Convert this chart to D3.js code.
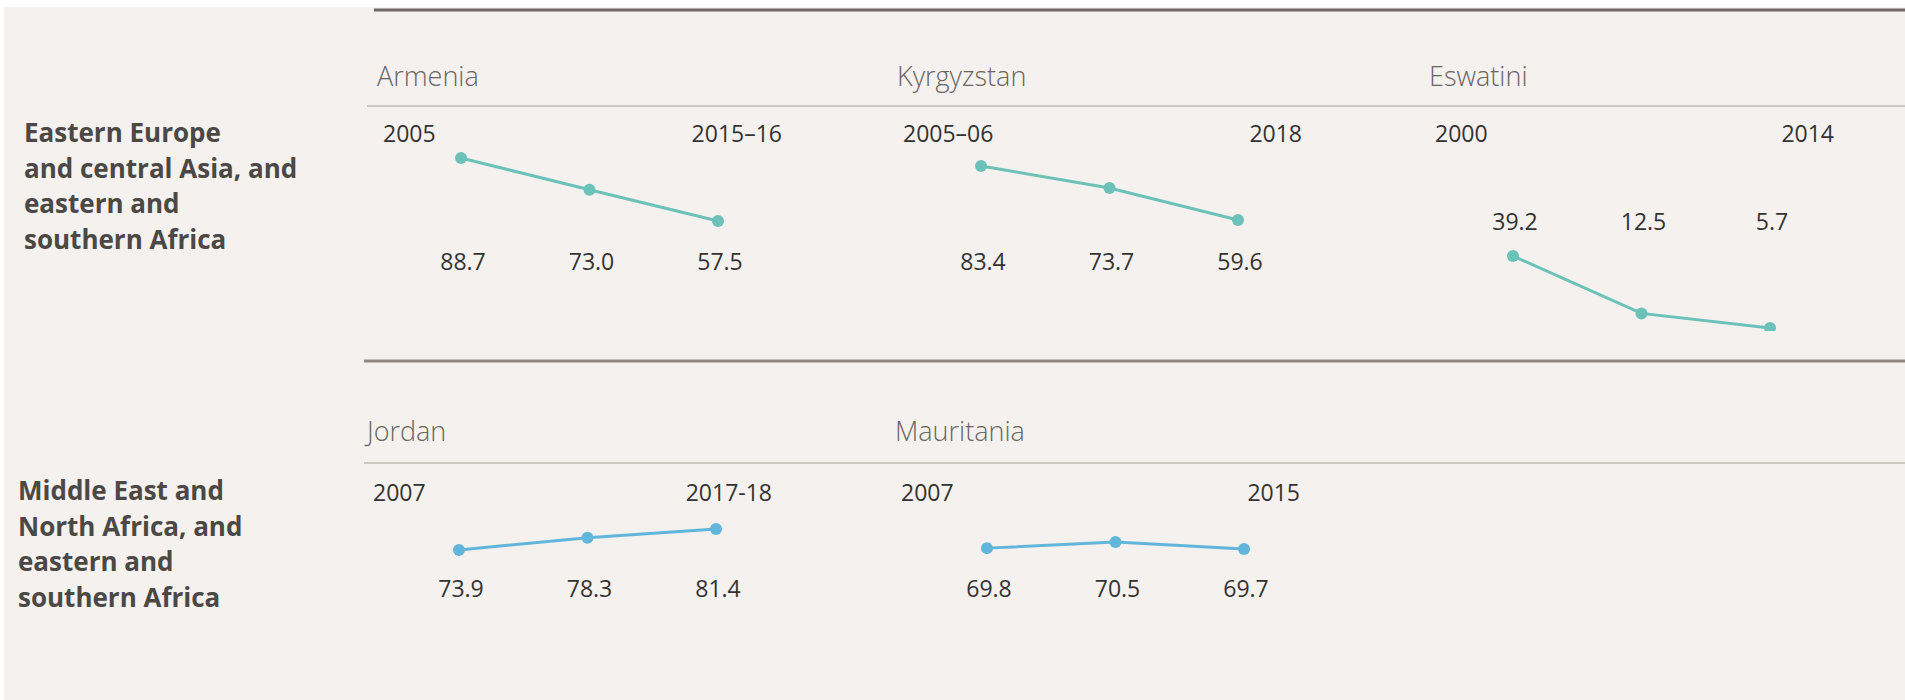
<!DOCTYPE html>
<html>
<head>
<meta charset="utf-8">
<script src="https://cdn.jsdelivr.net/npm/d3@7"></script>
<style>
  body { margin: 0; background: #fff; }
  svg { display: block; font-family: 'Open Sans', sans-serif; }
</style>
</head>
<body>
<div id="chart"></div>
<script>
// データ
const regionLabels = [
  ['Eastern Europe', 'and central Asia, and', 'eastern and', 'southern Africa'],
  ['Middle East and', 'North Africa, and', 'eastern and', 'southern Africa']
];
const countries = ['Armenia', 'Kyrgyzstan', 'Eswatini', 'Jordan', 'Mauritania'];
const countryRow = [0, 0, 0, 1, 1];
const startYears = ['2005', '2005–06', '2000', '2007', '2007'];
const endYears = ['2015–16', '2018', '2014', '2017-18', '2015'];
const values = [
  [88.7, 73.0, 57.5],
  [83.4, 73.7, 59.6],
  [39.2, 12.5, 5.7],
  [73.9, 78.3, 81.4],
  [69.8, 70.5, 69.7]
];

// レイアウト
const width = 1905;
const height = 700;
const panelX = [377, 897, 1429, 367, 895];
const panelYRange = [[221, 158], [220, 166], [328, 256], [550, 529], [549, 542]];
const valueLabelY = [270, 270, 230, 597, 597];
const rowNameY = [86, 441];
const rowYearY = [142, 501];
const rowLabelX = [24, 18];
const rowLabelY = [142, 500];
const rowPointOffset = [84, 92];
const rowColor = ['#6cc2b9', '#62b6dc'];

const svg = d3.select('#chart')
  .append('svg')
  .attr('width', width)
  .attr('height', height);

// 背景
svg.append('rect')
  .attr('x', 4).attr('y', 7)
  .attr('width', width - 4).attr('height', height - 7)
  .attr('fill', '#f4f1ee');

svg.append('clipPath')
  .attr('id', 'row0clip')
  .append('rect')
  .attr('x', 0).attr('y', 0).attr('width', width).attr('height', 331);

// 区切り線
const rules = [
  { x1: 374, y: 10, w: 3, c: '#6e6964' },
  { x1: 367, y: 106, w: 2, c: '#cdc9c5' },
  { x1: 364, y: 361, w: 3, c: '#8c8782' },
  { x1: 364, y: 463, w: 2, c: '#cdc9c5' }
];
svg.selectAll('.rule')
  .data(rules)
  .enter()
  .append('line')
  .attr('class', 'rule')
  .attr('x1', d => d.x1)
  .attr('x2', width)
  .attr('y1', d => d.y)
  .attr('y2', d => d.y)
  .attr('stroke', d => d.c)
  .attr('stroke-width', d => d.w);

// 地域ラベル
regionLabels.forEach((lines, r) => {
  svg.append('text')
    .attr('font-size', '26px')
    .attr('font-weight', 700)
    .attr('fill', '#4b4845')
    .selectAll('tspan')
    .data(lines)
    .enter()
    .append('tspan')
    .attr('x', rowLabelX[r])
    .attr('y', (d, i) => rowLabelY[r] + i * 35.5)
    .text(d => d);
});

// 国別パネル
countries.forEach((name, k) => {
  const r = countryRow[k];
  const x0 = panelX[k];
  const g = svg.append('g');
  if (r === 0) g.attr('clip-path', 'url(#row0clip)');

  const x = d3.scalePoint()
    .domain([0, 1, 2])
    .range([x0 + rowPointOffset[r], x0 + rowPointOffset[r] + 257]);
  const y = d3.scaleLinear()
    .domain(d3.extent(values[k]))
    .range(panelYRange[k]);

  g.append('text')
    .attr('x', x0)
    .attr('y', rowNameY[r])
    .attr('font-size', '27px')
    .attr('font-weight', 300)
    .attr('fill', '#6a6662')
    .text(name);

  g.append('text')
    .attr('x', x0 + 6)
    .attr('y', rowYearY[r])
    .attr('font-size', '23px')
    .attr('fill', '#333')
    .text(startYears[k]);

  g.append('text')
    .attr('x', x0 + 405)
    .attr('y', rowYearY[r])
    .attr('text-anchor', 'end')
    .attr('font-size', '23px')
    .attr('fill', '#333')
    .text(endYears[k]);

  const line = d3.line()
    .x((d, i) => x(i))
    .y(d => y(d));

  g.append('path')
    .datum(values[k])
    .attr('d', line)
    .attr('fill', 'none')
    .attr('stroke', rowColor[r])
    .attr('stroke-width', 3);

  g.selectAll('.dot')
    .data(values[k])
    .enter()
    .append('circle')
    .attr('class', 'dot')
    .attr('cx', (d, i) => x(i))
    .attr('cy', d => y(d))
    .attr('r', 6)
    .attr('fill', rowColor[r]);

  g.selectAll('.val')
    .data(values[k])
    .enter()
    .append('text')
    .attr('class', 'val')
    .attr('x', (d, i) => x(i) + 2)
    .attr('y', valueLabelY[k])
    .attr('text-anchor', 'middle')
    .attr('font-size', '23px')
    .attr('fill', '#333')
    .text(d => d.toFixed(1));
});
</script>
</body>
</html>
